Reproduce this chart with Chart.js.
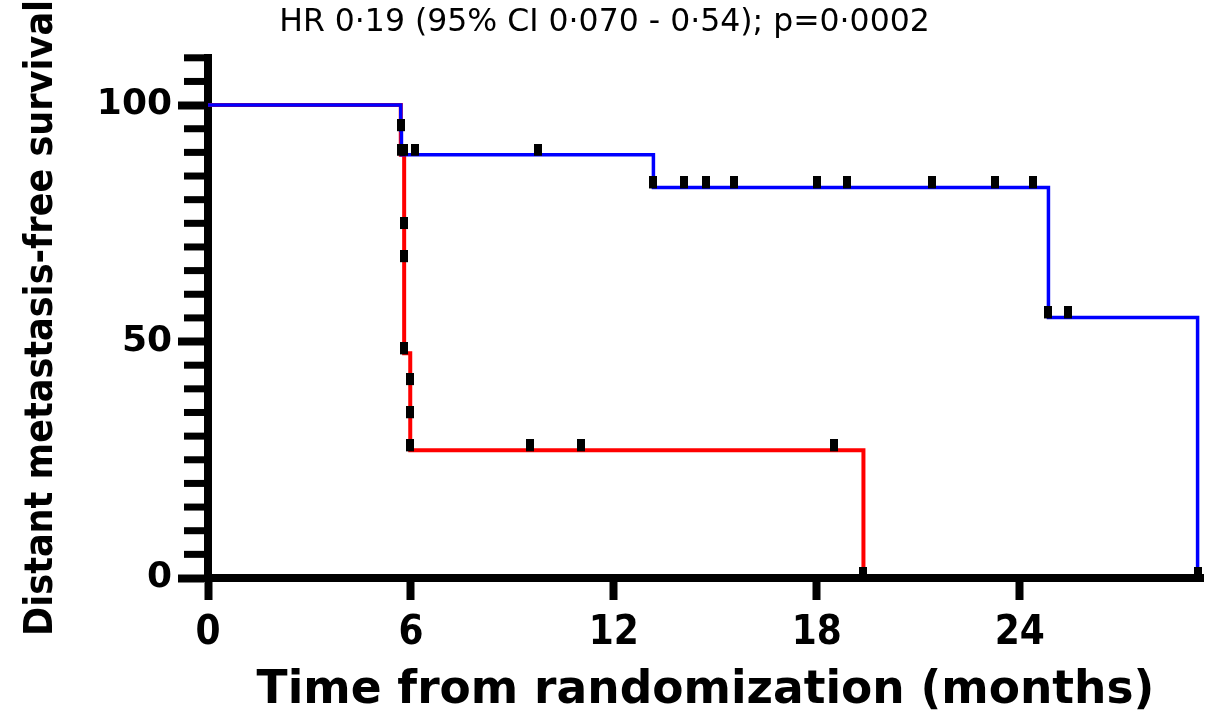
<!DOCTYPE html>
<html>
<head>
<meta charset="utf-8">
<title>Distant metastasis-free survival</title>
<script src="https://cdn.jsdelivr.net/npm/chart.js@4.4.1/dist/chart.umd.min.js"></script>
<style>
  html, body { margin: 0; padding: 0; background: #fff; }
</style>
</head>
<body>
<canvas id="km" width="1209" height="719"></canvas>
<script>
// Kaplan-Meier plot, values

const TITLE = 'HR 0·19 (95% CI 0·070 - 0·54); p=0·0002';
const X_LABEL = 'Time from randomization (months)';
const Y_LABEL = 'Distant metastasis-free survival';

const xTicks = [0, 6, 12, 18, 24];
const yTicks = [0, 50, 100];
const yMinorStep = 5;
const xMax = 29.42;
const yMax = 110;

// blue arm: step points (time, survival after the step)
const blueTime = [0, 5.7, 5.72, 13.17, 24.85, 29.26];
const blueSurv = [100, 94.7, 89.5, 82.6, 55.1, 0];
// blue arm: tick marks
const blueTickTime = [5.7, 5.72, 6.12, 9.76, 13.17, 14.08, 14.73, 15.56, 18.02, 18.88, 21.42, 23.28, 24.38, 24.85, 25.44, 29.26];
const blueTickSurv = [94.7, 89.5, 89.5, 89.5, 82.6, 82.6, 82.6, 82.6, 82.6, 82.6, 82.6, 82.6, 82.6, 55.1, 55.1, 0];

// red arm: step points
const redTime = [0, 5.7, 5.8, 5.8, 5.8, 5.98, 5.98, 5.98, 19.38];
const redSurv = [100, 89.5, 74, 67, 47.5, 41, 34, 27, 0];
// red arm: tick marks
const redTickTime = [5.8, 5.8, 5.8, 5.8, 5.98, 5.98, 5.98, 9.53, 11.04, 18.5, 19.38];
const redTickSurv = [89.5, 74, 67, 47.5, 41, 34, 27, 27, 27, 27, 0];

const pts = (xs, ys) => xs.map((x, i) => ({ x: x, y: ys[i] }));

// censor tick: small black block that sits on top of the line
function tickMark() {
  const c = document.createElement('canvas');
  c.width = 8; c.height = 22;
  const g = c.getContext('2d');
  g.fillStyle = '#000';
  g.fillRect(0, 0, 8, 12);
  return c;
}
const mark = tickMark();

const minorTicks = {
  id: 'minorTicks',
  beforeDatasetsDraw(chart) {
    const y = chart.scales.y;
    const ctx = chart.ctx;
    const left = chart.chartArea.left;
    ctx.save();
    ctx.fillStyle = '#000';
    for (let v = 0; v <= yMax; v += yMinorStep) {
      if (yTicks.includes(v)) continue;
      const py = y.getPixelForValue(v);
      ctx.fillRect(left - 24, py - 3.5, 20, 7);
    }
    ctx.restore();
  }
};

const NARROW = "'Liberation Sans Narrow', 'DejaVu Sans Condensed', sans-serif";
const WIDE = "'DejaVu Sans', sans-serif";

new Chart(document.getElementById('km'), {
  type: 'line',
  data: {
    datasets: [
      { type: 'scatter', data: pts(blueTickTime, blueTickSurv), pointStyle: mark, pointRadius: 5, showLine: false, clip: false },
      { type: 'scatter', data: pts(redTickTime, redTickSurv), pointStyle: mark, pointRadius: 5, showLine: false, clip: false },
      { data: pts(blueTime, blueSurv), borderColor: '#0000ff', borderWidth: 3.5, stepped: 'before', pointRadius: 0, fill: false, clip: false },
      { data: pts(redTime, redSurv), borderColor: '#ff0000', borderWidth: 4, stepped: 'before', pointRadius: 0, fill: false, clip: false }
    ]
  },
  options: {
    responsive: false,
    animation: false,
    layout: { padding: 0 },
    plugins: {
      legend: { display: false },
      tooltip: { enabled: false },
      title: {
        display: true,
        text: TITLE,
        color: '#000',
        font: { family: WIDE, size: 31.5, weight: 'normal' },
        padding: { top: 4, bottom: 16 }
      }
    },
    scales: {
      x: {
        type: 'linear',
        min: 0,
        max: xMax,
        afterBuildTicks: s => { s.ticks = xTicks.map(v => ({ value: v })); },
        afterFit: s => { s.height = 141; },
        border: { display: true, color: '#000', width: 8 },
        grid: { drawOnChartArea: false, drawTicks: true, tickLength: 22, tickWidth: 8, tickColor: '#000' },
        ticks: { color: '#000', padding: 10, font: { family: NARROW, size: 40, weight: 'bold' }, maxRotation: 0 },
        title: { display: true, text: X_LABEL, color: '#000', font: { family: WIDE, size: 45.5, weight: 'bold' }, padding: { top: 0, bottom: 1 } }
      },
      y: {
        min: 0,
        max: yMax,
        afterBuildTicks: s => { s.ticks = yTicks.map(v => ({ value: v })); },
        afterFit: s => { s.width = 208; },
        border: { display: true, color: '#000', width: 8 },
        grid: { drawOnChartArea: false, drawTicks: true, tickLength: 30, tickWidth: 8, tickColor: '#000' },
        ticks: { color: '#000', padding: 6, font: { family: WIDE, size: 36, weight: 'bold' } },
        title: { display: true, text: Y_LABEL, color: '#000', font: { family: NARROW, size: 39, weight: 'bold' }, padding: { top: 18, bottom: 0 } }
      }
    }
  },
  plugins: [minorTicks]
});
</script>
</body>
</html>
